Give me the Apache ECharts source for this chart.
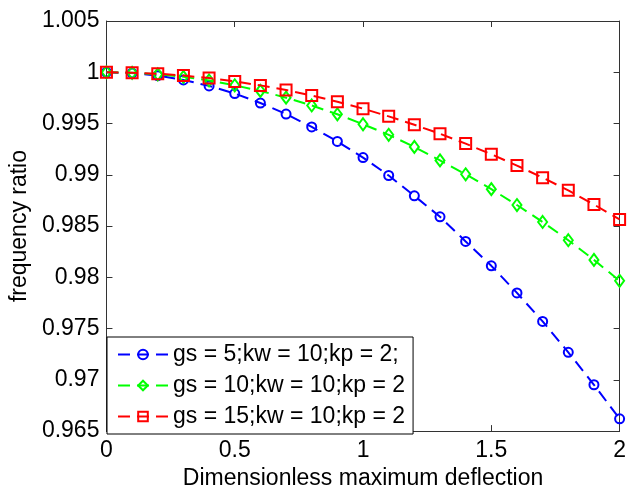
<!DOCTYPE html>
<html>
<head>
<meta charset="utf-8">
<script src="https://cdn.jsdelivr.net/npm/echarts@6/dist/echarts.min.js"></script>
<style>
html,body{margin:0;padding:0;background:#fff;}
#chart{width:629px;height:495px;}
</style>
</head>
<body>
<div id="chart"></div>
<script>
const xValues = [0,0.1,0.2,0.3,0.4,0.5,0.6,0.7,0.8,0.9,1.0,1.1,1.2,1.3,1.4,1.5,1.6,1.7,1.8,1.9,2.0];
const seriesNames = ['gs = 5;kw = 10;kp = 2;', 'gs = 10;kw = 10;kp = 2', 'gs = 15;kw = 10;kp = 2'];
const gs5 = [1.0000,0.99992,0.99967,0.99925,0.99867,0.99792,0.99700,0.99592,0.99467,0.99325,0.99168,0.98993,0.98795,0.98590,0.98350,0.98112,0.97848,0.97570,0.97268,0.96952,0.96620];
const gs10 = [1.0000,0.99995,0.99980,0.99955,0.99920,0.99873,0.99818,0.99752,0.99676,0.99590,0.99493,0.99390,0.99272,0.99140,0.99005,0.98860,0.98705,0.98540,0.98362,0.98170,0.97966];
const gs15 = [1.0000,0.99996,0.99986,0.99968,0.99943,0.99911,0.99872,0.99826,0.99773,0.99713,0.99645,0.99570,0.99488,0.99400,0.99304,0.99200,0.99090,0.98972,0.98848,0.98710,0.98565];
const xTicks = [0,0.5,1,1.5,2];
const yTicks = [0.965,0.97,0.975,0.98,0.985,0.99,0.995,1,1.005];

const FONT = 'Liberation Sans';
const FS = 23;
const axisColor = '#333';

function pairs(ys){ return xValues.map((x,i)=>[x, ys[i]]); }

const chart = echarts.init(document.getElementById('chart'), null, {renderer:'canvas'});

const baseX = {
  type:'value', min:0, max:2, interval:0.5,
  axisLine:{show:true, onZero:false, lineStyle:{color:axisColor, width:1}},
  axisTick:{show:true, inside:true, length:6, lineStyle:{color:axisColor}},
  splitLine:{show:false}
};
const baseY = {
  type:'value', min:0.965, max:1.005, interval:0.005,
  axisLine:{show:true, onZero:false, lineStyle:{color:axisColor, width:1}},
  axisTick:{show:true, inside:true, length:6, lineStyle:{color:axisColor}},
  splitLine:{show:false}
};

const styles = [
  {color:'#0000ff', symbol:'circle', size:9},
  {color:'#00ff00', symbol:'diamond', size:[9,12]},
  {color:'#ff0000', symbol:'rect', size:11}
];
const datas = [gs5, gs10, gs15];

chart.setOption({
  animation:false,
  backgroundColor:'#fff',
  textStyle:{fontFamily:FONT},
  grid:{left:105, top:21, right:6, bottom:61, containLabel:false},
  legend:{
    orient:'vertical', left:107, top:337,
    itemWidth:50, itemHeight:12, itemGap:8,
    padding:[6,8,6,10],
    backgroundColor:'#fff', borderColor:'#000', borderWidth:1,
    textStyle:{fontSize:FS, color:'#000', fontFamily:FONT, lineHeight:23},
    data:seriesNames
  },
  xAxis:[
    Object.assign({}, baseX, {
      position:'bottom',
      axisLabel:{show:true, margin:8, fontSize:FS, color:'#000', fontFamily:FONT},
      name:'Dimensionless maximum deflection', nameLocation:'middle', nameGap:33,
      nameTextStyle:{fontSize:FS, color:'#000', fontFamily:FONT}
    }),
    Object.assign({}, baseX, {position:'top', axisLabel:{show:false}})
  ],
  yAxis:[
    Object.assign({}, baseY, {
      position:'left',
      axisLabel:{show:true, margin:7, fontSize:FS, color:'#000', fontFamily:FONT,
        formatter:function(v){ return String(+v.toFixed(3)); }},
      name:'frequency ratio', nameLocation:'middle', nameRotate:90, nameGap:66,
      nameTextStyle:{fontSize:FS, color:'#000', fontFamily:FONT}
    }),
    Object.assign({}, baseY, {position:'right', axisLabel:{show:false}})
  ],
  series: seriesNames.map((n,i)=>({
    name:n, type:'line', xAxisIndex:0, yAxisIndex:0,
    data:pairs(datas[i]),
    symbol:styles[i].symbol, symbolSize:styles[i].size, showSymbol:true,
    lineStyle:{color:styles[i].color, width:2, type:[12,7]},
    itemStyle:{color:'rgba(255,255,255,0)', borderColor:styles[i].color, borderWidth:2},
    emphasis:{disabled:true},
    z: 2+i
  }))
});
</script>
</body>
</html>
